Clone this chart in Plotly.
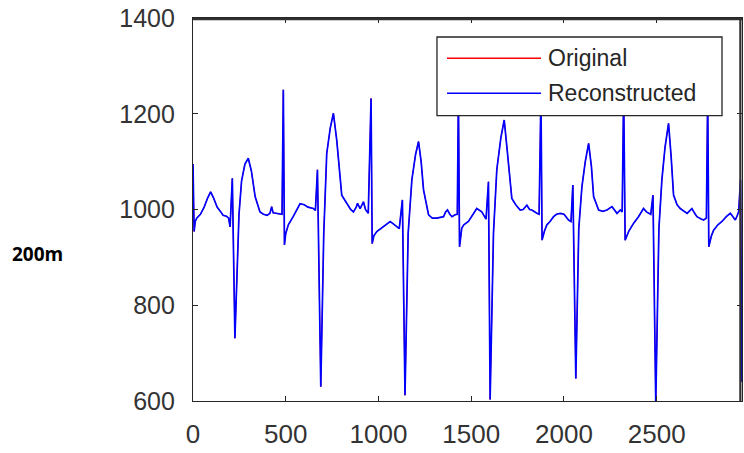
import plotly.graph_objects as go

# Sample index (x) and amplitude (y) waypoints
sample_idx = [
    0, 6, 12, 20, 40, 60, 80, 95, 110, 130, 150, 162, 180, 192, 200, 212, 226, 248, 262, 280,
    298, 315, 335, 361, 380, 400, 415, 424, 432, 460, 480, 487, 493, 500, 514, 540, 560, 577,
    600, 620, 649, 660, 671, 689, 705, 721, 740, 757, 775, 790, 802, 829, 850, 865, 880, 887,
    901, 919, 930, 945, 960, 966, 975, 991, 1010, 1045, 1063, 1080, 1099, 1112, 1129, 1143,
    1160, 1180, 1200, 1216, 1230, 1243, 1270, 1290, 1315, 1335, 1351, 1362, 1372, 1385, 1396,
    1413, 1425, 1431, 1437, 1449, 1460, 1485, 1500, 1515, 1530, 1557, 1570, 1580, 1593, 1602,
    1620, 1638, 1660, 1678, 1695, 1710, 1719, 1740, 1764, 1780, 1800, 1815, 1827, 1854, 1866,
    1876, 1882, 1895, 1908, 1925, 1944, 1960, 1980, 2000, 2025, 2038, 2048, 2064, 2080, 2097,
    2115, 2133, 2148, 2160, 2187, 2210, 2232, 2259, 2275, 2286, 2304, 2314, 2322, 2330, 2350,
    2375, 2402, 2429, 2445, 2456, 2468, 2480, 2495, 2512, 2528, 2545, 2564, 2578, 2591, 2610,
    2627, 2664, 2680, 2690, 2705, 2717, 2740, 2753, 2768, 2775, 2781, 2795, 2807, 2830, 2852,
    2875, 2897, 2912, 2924, 2935, 2942, 2952, 2959,
]
reconstructed = [
    1095, 954, 975, 982, 990, 1005, 1025, 1037, 1025, 1005, 995, 988, 986, 982, 964, 1065, 731, 990, 1060, 1095,
    1107, 1080, 1027, 995, 990, 988, 992, 1006, 993, 992, 990, 1250, 926, 950, 968, 985, 1000, 1012,
    1010, 1005, 1002, 998, 1083, 630, 950, 1117, 1170, 1201, 1145, 1070, 1030, 1013, 1000, 995, 1005, 1013,
    1002, 1016, 1000, 992, 1232, 929, 945, 954, 960, 971, 975, 970, 964, 960, 1020, 612,
    950, 1062, 1115, 1142, 1100, 1041, 989, 982, 982, 984, 985, 995, 999, 990, 985,
    989, 990, 1240, 922, 961, 968, 975, 985, 995, 1002, 995, 985, 980, 1058, 603,
    950, 1083, 1150, 1187, 1120, 1050, 1023, 1010, 999, 1000, 1009, 1000, 999, 992, 990,
    1240, 936, 955, 968, 975, 985, 990, 992, 990, 978, 975, 1051, 647, 960, 1048,
    1100, 1138, 1090, 1027, 999, 996, 999, 1006, 998, 992, 999, 995, 1245, 936, 955,
    971, 985, 1002, 995, 992, 990, 1030, 595, 960, 1062, 1130, 1180, 1110, 1030, 1010,
    1002, 992, 998, 1002, 992, 985, 980, 978, 982, 1240, 922, 945, 957, 968, 975,
    985, 992, 985, 978, 988, 995, 1062, 640,
]
original = list(reconstructed)  # original overlaps the reconstruction exactly

x_ticks = [0, 500, 1000, 1500, 2000, 2500]
y_ticks = [600, 800, 1000, 1200, 1400]
legend_labels = ["Original", "Reconstructed"]
legend_colors = ["#ff0000", "#0000ff"]

fig = go.Figure()
fig.add_trace(go.Scatter(x=sample_idx, y=original, mode="lines", name=legend_labels[0],
                         line=dict(color=legend_colors[0], width=1.0), showlegend=False))
fig.add_trace(go.Scatter(x=sample_idx, y=reconstructed, mode="lines", name=legend_labels[1],
                         line=dict(color=legend_colors[1], width=1.7), showlegend=False))

axis_col = "#262626"
tick_font = dict(family="Liberation Sans, Arial, sans-serif", color="#333333")

fig.update_xaxes(range=[0, 2960], tickvals=x_ticks, ticktext=[str(v) for v in x_ticks],
                 showgrid=False, zeroline=False, showline=True, linecolor=axis_col, linewidth=1.2,
                 mirror="allticks", ticks="inside", ticklen=5, tickcolor=axis_col, tickwidth=1.2,
                 tickfont=dict(size=26, **tick_font), ticklabelstandoff=10)
fig.update_yaxes(range=[600, 1400], tickvals=y_ticks, ticktext=[str(v) for v in y_ticks],
                 showgrid=False, zeroline=False, showline=True, linecolor=axis_col, linewidth=1.2,
                 mirror="allticks", ticks="inside", ticklen=5, tickcolor=axis_col, tickwidth=1.2,
                 tickfont=dict(size=25, **tick_font), ticklabelstandoff=12)

# Axes box outline (MATLAB "box on"): top and right edges, slightly thicker
shapes = [
    dict(type="line", xref="paper", yref="paper", x0=0, x1=1.0, y0=0.997, y1=0.997,
         line=dict(color="#303030", width=2.2), layer="above"),
    dict(type="line", xref="paper", yref="paper", x0=0.997, x1=0.997, y0=0, y1=1.0,
         line=dict(color="#303030", width=2.2), layer="above"),
]
# Manual legend (MATLAB style, long line samples)
shapes.append(dict(type="rect", xref="paper", yref="paper", x0=0.4444, x1=0.9636, y0=0.745, y1=0.9504,
                   fillcolor="white", line=dict(color=axis_col, width=1.3), layer="above"))
legend_y = [0.8948, 0.8034]
annotations = []
for lab, col, ly in zip(legend_labels, legend_colors, legend_y):
    shapes.append(dict(type="line", xref="paper", yref="paper", x0=0.4627, x1=0.6339, y0=ly, y1=ly,
                       line=dict(color=col, width=1.5), layer="above"))
    annotations.append(dict(text=lab, xref="paper", yref="paper", x=0.6430, y=ly, xanchor="left",
                            yanchor="middle", showarrow=False,
                            font=dict(size=23, family="Liberation Sans, Arial, sans-serif", color="#262626")))

annotations.append(dict(text="<b>200m</b>", xref="paper", yref="paper", x=-0.284, y=0.384,
                        xanchor="center", yanchor="middle", showarrow=False,
                        font=dict(size=19, family="Open Sans, sans-serif", color="#000000")))

fig.update_layout(width=744, height=453, margin=dict(l=193, r=2, t=18, b=52),
                  paper_bgcolor="white", plot_bgcolor="white",
                  shapes=shapes, annotations=annotations, showlegend=False)

# Remove the default 8px page margin so the figure fills the window exactly
fig.write_html("out.html", config={"displayModeBar": False},
               post_script="document.body.style.margin='0';document.body.style.overflow='hidden';")
